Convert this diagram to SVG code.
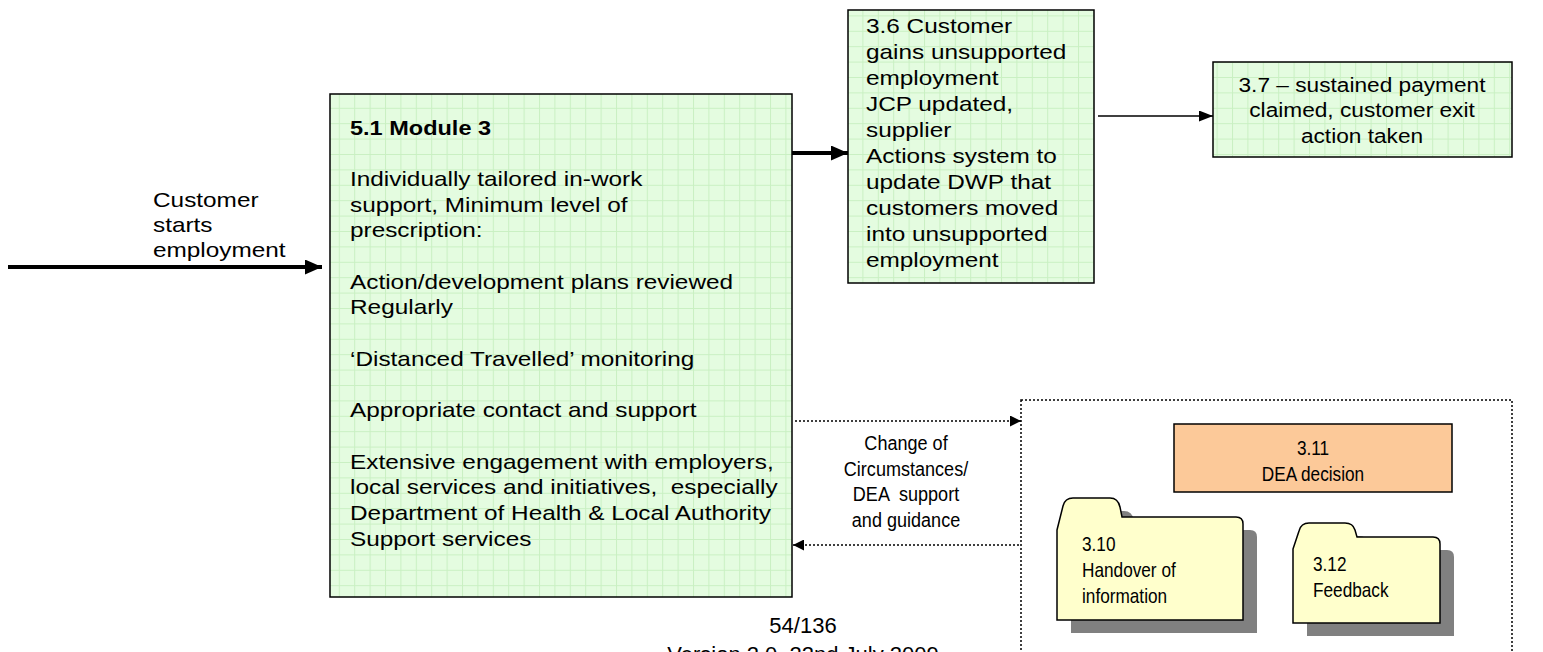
<svg xmlns="http://www.w3.org/2000/svg" width="1543" height="652" viewBox="0 0 1543 652">
<defs>
<pattern id="grid" patternUnits="userSpaceOnUse" width="15.4" height="15.4">
<rect width="15.4" height="15.4" fill="#E4FCE0"/>
<path d="M0,0.5 H15.4 M0.5,0 V15.4" stroke="#C9F0C2" stroke-width="1" fill="none"/>
</pattern>
<marker id="thick" markerUnits="userSpaceOnUse" markerWidth="17" markerHeight="15" refX="17" refY="7.5" orient="auto">
<path d="M0,0 L17,7.5 L0,15 z" fill="#000"/>
</marker>
<marker id="thin" markerUnits="userSpaceOnUse" markerWidth="14" markerHeight="11" refX="14" refY="5.5" orient="auto">
<path d="M0,0 L14,5.5 L0,11 z" fill="#000"/>
</marker>
<marker id="dot" markerUnits="userSpaceOnUse" markerWidth="11" markerHeight="11" refX="11" refY="5.5" orient="auto">
<path d="M0,0 L11,5.5 L0,11 z" fill="#000"/>
</marker>
</defs>
<style>
text{font-family:"Liberation Sans",Arial,sans-serif;fill:#000;}
.t{font-size:21px;}
.b{font-size:21px;font-weight:bold;}
.n{font-size:21px;}
.box{fill:url(#grid);stroke:#000;stroke-width:1.5;}
.fold{fill:#FFFFCC;stroke:#000;stroke-width:1.5;}
.shadow{fill:#808080;}
.c{text-anchor:middle;}
</style>

<rect x="0" y="0" width="1543" height="652" fill="#fff"/>

<g id="connectors" fill="none" stroke="#000">
<path d="M8,267 L322,267" stroke-width="4" marker-end="url(#thick)"/>
<path d="M792,153 L848,153" stroke-width="4" marker-end="url(#thick)"/>
<path d="M1098,116 L1213,116" stroke-width="1.5" marker-end="url(#thin)"/>
<path d="M795,421 L1021,421" stroke-width="1.5" stroke-dasharray="2 2" marker-end="url(#dot)"/>
<path d="M1019,545 L793,545" stroke-width="1.5" stroke-dasharray="2 2" marker-end="url(#dot)"/>
</g>

<g id="label-start" transform="translate(153,0) scale(1.16,1)">
<text class="t" x="0" y="207">Customer</text>
<text class="t" x="0" y="232">starts</text>
<text class="t" x="0" y="257">employment</text>
</g>

<g id="node-5-1">
<rect class="box" x="330" y="94" width="462" height="503"/>
<g transform="translate(350,0) scale(1.12,1)">
<text class="b" x="0" y="135">5.1 Module 3</text>
</g>
<g transform="translate(350,0) scale(1.16,1)">
<text class="t" x="0" y="186">Individually tailored in-work</text>
<text class="t" x="0" y="211.7">support, Minimum level of</text>
<text class="t" x="0" y="237.4">prescription:</text>
<text class="t" x="0" y="288.8">Action/development plans reviewed</text>
<text class="t" x="0" y="314.5">Regularly</text>
<text class="t" x="0" y="365.9">‘Distanced Travelled’ monitoring</text>
<text class="t" x="0" y="417.3">Appropriate contact and support</text>
<text class="t" x="0" y="468.7">Extensive engagement with employers,</text>
<text class="t" x="0" y="494.4" style="white-space:pre">local services and initiatives,  especially</text>
<text class="t" x="0" y="520.1">Department of Health &amp; Local Authority</text>
<text class="t" x="0" y="545.8">Support services</text>
</g>
</g>

<g id="node-3-6">
<rect class="box" x="848" y="10" width="246" height="273"/>
<g transform="translate(866,0) scale(1.16,1)">
<text class="t" x="0" y="33">3.6 Customer</text>
<text class="t" x="0" y="59">gains unsupported</text>
<text class="t" x="0" y="85">employment</text>
<text class="t" x="0" y="111">JCP updated,</text>
<text class="t" x="0" y="137">supplier</text>
<text class="t" x="0" y="163">Actions system to</text>
<text class="t" x="0" y="189">update DWP that</text>
<text class="t" x="0" y="215">customers moved</text>
<text class="t" x="0" y="241">into unsupported</text>
<text class="t" x="0" y="267">employment</text>
</g>
</g>

<g id="node-3-7">
<rect class="box" x="1213" y="62" width="299" height="95"/>
<g transform="translate(1362,0) scale(1.08,1)">
<text class="t c" x="0" y="92">3.7 – sustained payment</text>
<text class="t c" x="0" y="117.5">claimed, customer exit</text>
<text class="t c" x="0" y="143">action taken</text>
</g>
</g>

<g id="label-change" transform="translate(906,0) scale(0.86,1)">
<text class="n c" x="0" y="450">Change of</text>
<text class="n c" x="0" y="476">Circumstances/</text>
<text class="n c" x="0" y="501" style="white-space:pre">DEA  support</text>
<text class="n c" x="0" y="527">and guidance</text>
</g>

<g id="group-dea">
<rect x="1021" y="400" width="491" height="300" fill="none" stroke="#000" stroke-width="1.5" stroke-dasharray="2 2"/>
</g>

<g id="node-3-11">
<rect x="1174" y="424" width="278" height="68" fill="#FCC999" stroke="#000" stroke-width="1.5"/>
<g transform="translate(1313,0) scale(0.82,1)">
<text class="n c" x="0" y="455">3.11</text>
<text class="n c" x="0" y="481">DEA decision</text>
</g>
</g>

<g id="node-3-10">
<path class="shadow" transform="translate(14,13)" d="M1057,530 L1063,506 Q1065,498 1073,498 L1110,498 Q1118,498 1120,507 L1122,517 L1236,517 Q1243,517 1243,524 L1243,620 L1057,620 Z"/>
<path class="fold" d="M1057,530 L1063,506 Q1065,498 1073,498 L1110,498 Q1118,498 1120,507 L1122,517 L1236,517 Q1243,517 1243,524 L1243,620 L1057,620 Z"/>
<g transform="translate(1082,0) scale(0.82,1)">
<text class="n" x="0" y="551">3.10</text>
<text class="n" x="0" y="577">Handover of</text>
<text class="n" x="0" y="603">information</text>
</g>
</g>

<g id="node-3-12">
<path class="shadow" transform="translate(14,13)" d="M1293,549 L1299,531 Q1301,523 1309,523 L1345,523 Q1353,523 1355,530 L1357,537 L1433,537 Q1440,537 1440,544 L1440,623 L1293,623 Z"/>
<path class="fold" d="M1293,549 L1299,531 Q1301,523 1309,523 L1345,523 Q1353,523 1355,530 L1357,537 L1433,537 Q1440,537 1440,544 L1440,623 L1293,623 Z"/>
<g transform="translate(1313,0) scale(0.82,1)">
<text class="n" x="0" y="571">3.12</text>
<text class="n" x="0" y="597">Feedback</text>
</g>
</g>

<g id="footer">
<text class="c" x="803" y="633" style="font-size:22px">54/136</text>
<text class="c" x="803" y="662" style="font-size:22px">Version 2.0, 22nd July 2009</text>
</g>
</svg>
